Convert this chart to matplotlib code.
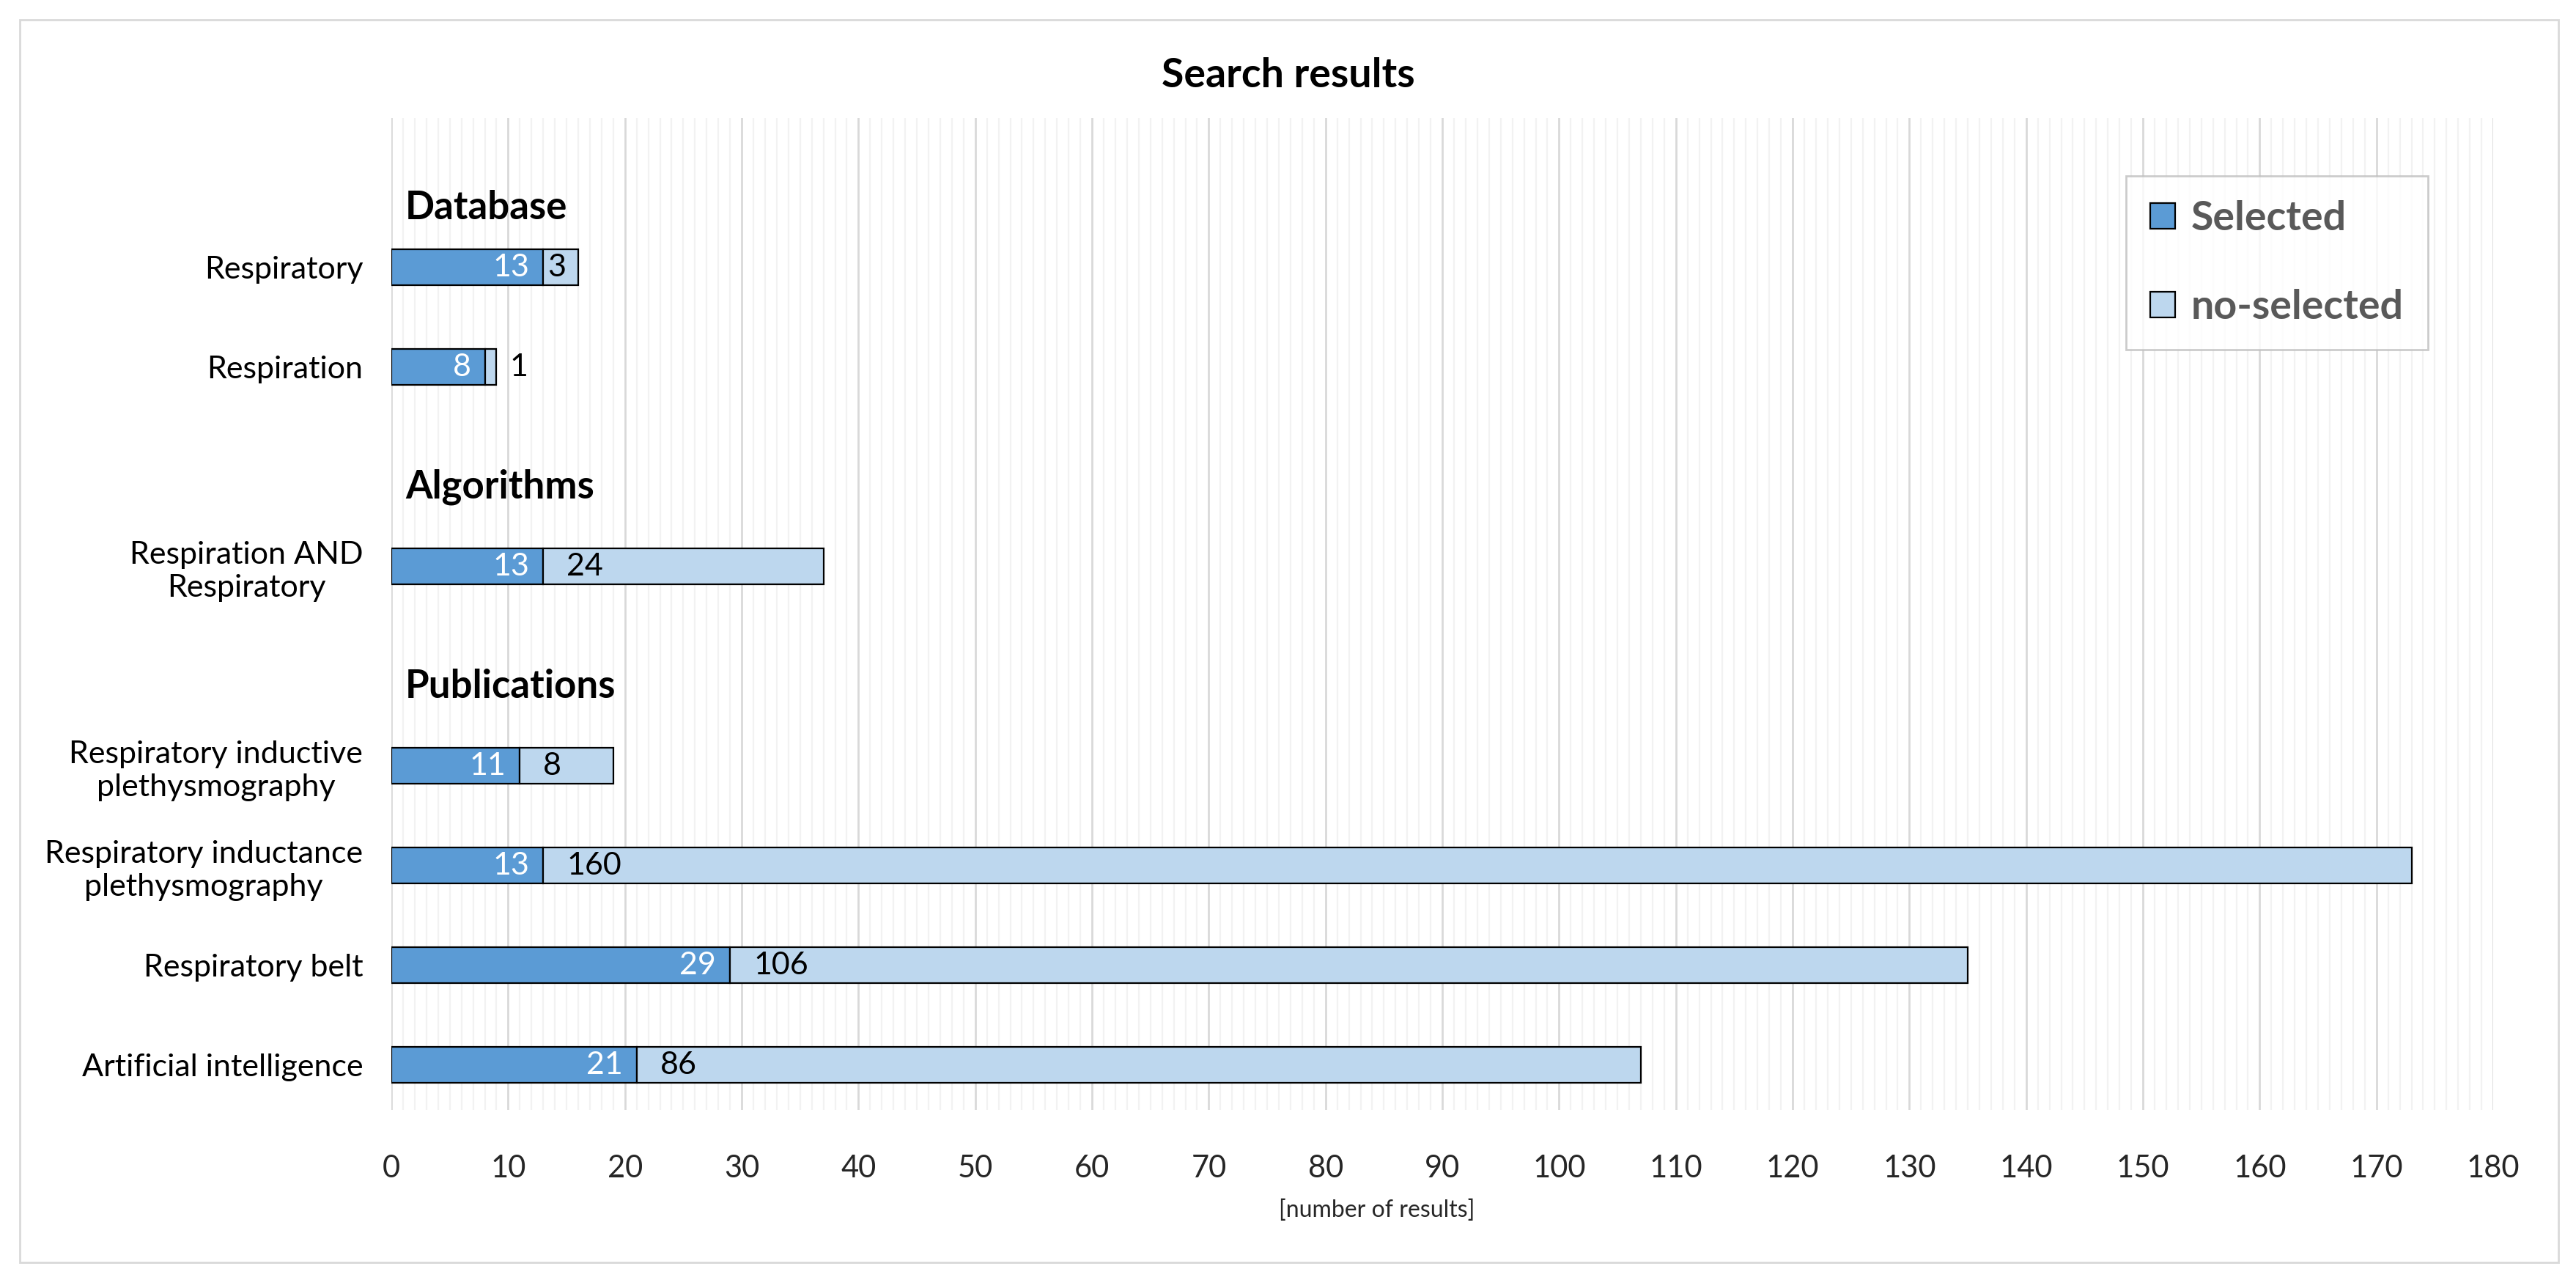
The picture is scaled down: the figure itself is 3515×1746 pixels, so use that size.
import matplotlib
matplotlib.use('Agg')
import matplotlib.pyplot as plt
from matplotlib.patches import Rectangle
import numpy as np

plt.rcParams['font.family'] = ['Lato', 'DejaVu Sans']

# data (top to bottom)
categories = ['Respiratory', 'Respiration', 'Respiration AND\nRespiratory',
              'Respiratory inductive\nplethysmography', 'Respiratory inductance\nplethysmography',
              'Respiratory belt', 'Artificial intelligence']
selected = [13, 8, 13, 11, 13, 29, 21]
no_selected = [3, 1, 24, 8, 160, 106, 86]
groups = ['Database', 'Algorithms', 'Publications']

# layout: a slot for each group header, then its rows
group_rows = [2, 1, 4]
slot_pos = []
header_pos = []
slot = 0
for n in group_rows:
    header_pos.append(slot)
    slot_pos.extend(range(slot + 1, slot + 1 + n))
    slot += n + 1
slot_pos = np.array(slot_pos)
header_off = [0.4, 0.2, 0.2]

c_sel = '#5B9BD5'
c_no = '#BDD7EE'

fig = plt.figure(figsize=(17.58, 8.73), dpi=200)
ax = fig.add_axes([0.1519, 0.1329, 0.9676 - 0.1519, 0.9078 - 0.1329])

ax.barh(slot_pos, selected, height=0.36, color=c_sel, edgecolor='black', linewidth=0.8,
        label='Selected', zorder=3)
ax.barh(slot_pos, no_selected, left=selected, height=0.36, color=c_no, edgecolor='black',
        linewidth=0.8, label='no-selected', zorder=3)

for y, s, n in zip(slot_pos, selected, no_selected):
    ax.text(s - 1.2, y, str(s), color='white', ha='right', va='center', fontsize=15.5, zorder=4)
    # inside base if it fits, else just past the bar end
    if n >= 3:
        xl = s + (2.0 if n > 5 else 0.4)
    else:
        xl = s + n + 1.1
    ax.text(xl, y, str(n), color='black', ha='left', va='center', fontsize=15.5, zorder=4)

for name, p, off in zip(groups, header_pos, header_off):
    ax.text(1.2, p + off, name, fontsize=19, fontweight='bold', ha='left', va='center', zorder=4)

ax.set_xlim(0, 180)
ax.set_ylim(9.45, -0.5)
ax.set_xticks(np.arange(0, 181, 10))
ax.set_xticks(np.arange(0, 181, 1), minor=True)
ax.set_yticks(slot_pos)
ax.set_yticklabels(categories, fontsize=15.5, ha='right', multialignment='center')
ax.tick_params(axis='y', length=0, pad=14)
ax.tick_params(axis='x', which='both', length=0, labelsize=15, pad=22, colors='#262626')
ax.grid(axis='x', which='major', color='#D9D9D9', linewidth=1.0, zorder=0)
ax.grid(axis='x', which='minor', color='#F2F2F2', linewidth=0.8, zorder=0)
ax.set_axisbelow(True)
for sp in ax.spines.values():
    sp.set_visible(False)

ax.set_xlabel('[number of results]', fontsize=11.5, color='#262626')
ax.xaxis.set_label_coords(0.469, -0.09)
fig.text(0.5, 1 - 103 / 1746, 'Search results', fontsize=20,
         fontweight='bold', ha='center', va='center')

leg = ax.legend(loc='upper right', bbox_to_anchor=(0.969, 0.9416),
                prop={'weight': 'bold', 'size': 20}, frameon=True, fancybox=False,
                edgecolor='#BFBFBF', labelspacing=1.27, borderpad=0.6, handlelength=0.6,
                handleheight=0.6, handletextpad=0.4, borderaxespad=0)
for t in leg.get_texts():
    t.set_color('#595959')
leg.get_frame().set_linewidth(1.0)

fig.patches.append(Rectangle((27 / 3516, 1 - 1722 / 1746), (3491 - 27) / 3516, (1722 - 27) / 1746,
                             transform=fig.transFigure, fill=False, edgecolor='#D9D9D9',
                             linewidth=1.0))

fig.savefig('out.png', dpi=200)
